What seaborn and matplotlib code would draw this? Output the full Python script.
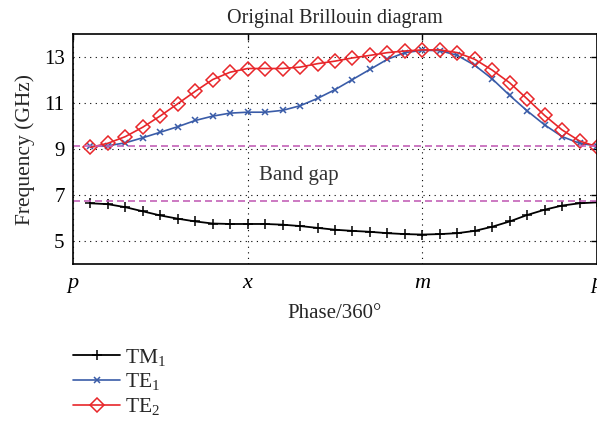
import numpy as np
import pandas as pd
import matplotlib
matplotlib.use("Agg")
import matplotlib.pyplot as plt
import seaborn as sns

# phase index (0..30, ticks at symmetry points)
phase = list(range(1, 31))
tm1 = [6.64, 6.60, 6.47, 6.29, 6.11, 5.97, 5.85, 5.76, 5.74, 5.74,
       5.74, 5.71, 5.65, 5.57, 5.49, 5.44, 5.40, 5.34, 5.30, 5.28,
       5.30, 5.34, 5.44, 5.62, 5.85, 6.13, 6.36, 6.54, 6.64, 6.68]
te1 = [9.11, 9.14, 9.27, 9.49, 9.73, 9.97, 10.24, 10.43, 10.56, 10.60,
       10.60, 10.68, 10.88, 11.20, 11.58, 12.02, 12.46, 12.90, 13.19, 13.29,
       13.28, 13.07, 12.64, 12.05, 11.33, 10.66, 10.05, 9.54, 9.25, 9.13]
te2 = [9.07, 9.25, 9.54, 9.95, 10.44, 10.97, 11.51, 12.02, 12.34, 12.50,
       12.50, 12.50, 12.56, 12.71, 12.82, 12.96, 13.07, 13.19, 13.26, 13.31,
       13.31, 13.19, 12.90, 12.43, 11.88, 11.18, 10.46, 9.83, 9.35, 9.10]
gap_edges = [9.11, 6.76]
tick_pos = [0, 10, 20, 30]
tick_labels = ["p", "x", "m", "p"]
yticks = [5, 7, 9, 11, 13]

sns.set_style("white")
plt.rcParams['font.family'] = ['Liberation Serif', 'DejaVu Serif']
plt.rcParams['mathtext.fontset'] = 'custom'
plt.rcParams['mathtext.rm'] = 'Liberation Serif'

df = pd.DataFrame({'phase': phase, 'TM': tm1, 'TE1': te1, 'TE2': te2})

fig = plt.figure(figsize=(5.97, 4.30), dpi=100)
ax = fig.add_axes([73 / 597, 1 - 264 / 430, 524 / 597, 230 / 430])

red = '#e8262a'
blue = '#3a5ca8'
sns.lineplot(data=df, x='phase', y='TM', ax=ax, color='black', marker='+',
             markersize=7.5, markeredgewidth=1.1, markeredgecolor='black',
             linewidth=1.3, label=r'TM$_\mathrm{1}$')
sns.lineplot(data=df, x='phase', y='TE1', ax=ax, color=blue, marker='x',
             markersize=5, markeredgewidth=1.1, markeredgecolor=blue,
             linewidth=1.2, label=r'TE$_\mathrm{1}$')
sns.lineplot(data=df, x='phase', y='TE2', ax=ax, color=red, marker='D',
             markersize=6.8, markerfacecolor='none', markeredgecolor=red,
             markeredgewidth=1.1, linewidth=1.2, label=r'TE$_\mathrm{2}$')

for g in gap_edges:
    ax.axhline(g, color='#c462b8', linestyle=(0, (4.2, 2.4)), linewidth=1.2)

ax.text(12.95, 7.86, 'Band gap', fontsize=15, ha='center', va='center', color='#333333')

ax.set_xlim(0, 30)
ax.set_ylim(4, 14)
ax.set_xticks(tick_pos)
ax.set_xticklabels(tick_labels, fontstyle='italic', fontsize=16)
ax.set_yticks(yticks)
ax.tick_params(axis='y', labelsize=15, pad=6)
ax.tick_params(axis='x', pad=7)
ax.tick_params(direction='in', top=True, right=True, length=4, width=1, colors='black')
ax.grid(True, linestyle=(0, (1, 4)), color='black', linewidth=0.8)
for s in ax.spines.values():
    s.set_color('black')
    s.set_linewidth(1.2)

ax.set_title('Original Brillouin diagram', fontsize=14.5, pad=8)
ax.set_xlabel('Phase/360°', fontsize=15, labelpad=8)
ax.set_ylabel('Frequency (GHz)', fontsize=15.5, labelpad=6)

ax.get_legend().remove()
handles, labels = ax.get_legend_handles_labels()
fig.legend(handles, labels, loc='upper left', bbox_to_anchor=(73 / 597, 1 - 347 / 430),
           frameon=False, fontsize=15.5, handlelength=2.2, labelspacing=0.15,
           handletextpad=0.2, borderpad=0, borderaxespad=0)

fig.savefig('out.png', dpi=100)
